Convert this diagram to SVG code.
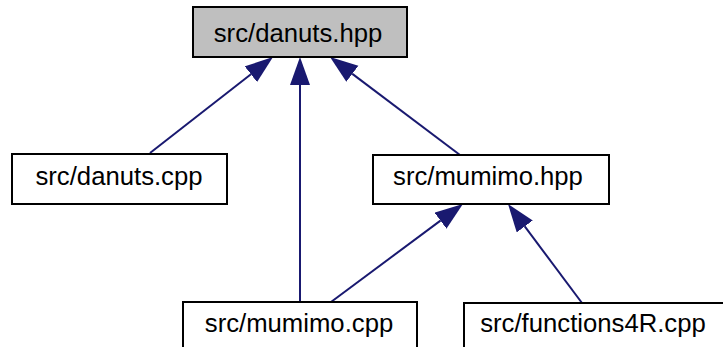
<svg xmlns="http://www.w3.org/2000/svg" width="723" height="347" viewBox="0 0 723 347">
  <style>
    .box { fill: #ffffff; stroke: #000000; stroke-width: 2; }
    .box.current { fill: #bfbfbf; }
    .label { font-family: "Liberation Sans", Arial, sans-serif; font-size: 25.7px; fill: #000000; text-anchor: middle; }
    .edge { fill: none; stroke: #191970; stroke-width: 2; }
  </style>
  <defs>
    <marker id="arrow" markerUnits="userSpaceOnUse" markerWidth="30" markerHeight="22" refX="0" refY="10" orient="auto">
      <path d="M0,0 L28,10 L0,20 z" fill="#191970" stroke="none"/>
    </marker>
  </defs>

  <!-- include dependency connectors (child -> included header) -->
  <g id="edges">
    <path class="edge" d="M150,153 L250.93,74.23" marker-end="url(#arrow)"/>
    <path class="edge" d="M300,302 L300,85" marker-end="url(#arrow)"/>
    <path class="edge" d="M460,155 L352.36,73.86" marker-end="url(#arrow)"/>
    <path class="edge" d="M331,302 L440.46,220.61" marker-end="url(#arrow)"/>
    <path class="edge" d="M582,303 L524.76,226.43" marker-end="url(#arrow)"/>
  </g>

  <g id="node-danuts-hpp">
    <rect class="box current" x="193" y="7" width="214" height="50"/>
    <text class="label" x="298" y="42">src/danuts.hpp</text>
  </g>

  <g id="node-danuts-cpp">
    <rect class="box" x="12" y="154" width="215" height="50"/>
    <text class="label" x="119" y="185">src/danuts.cpp</text>
  </g>

  <g id="node-mumimo-hpp">
    <rect class="box" x="373" y="155" width="236" height="49"/>
    <text class="label" x="488" y="185">src/mumimo.hpp</text>
  </g>

  <g id="node-mumimo-cpp">
    <rect class="box" x="183" y="302" width="234" height="50"/>
    <text class="label" x="299" y="332">src/mumimo.cpp</text>
  </g>

  <g id="node-functions4R-cpp">
    <rect class="box" x="464" y="303" width="270" height="50"/>
    <text class="label" x="593" y="332">src/functions4R.cpp</text>
  </g>
</svg>
